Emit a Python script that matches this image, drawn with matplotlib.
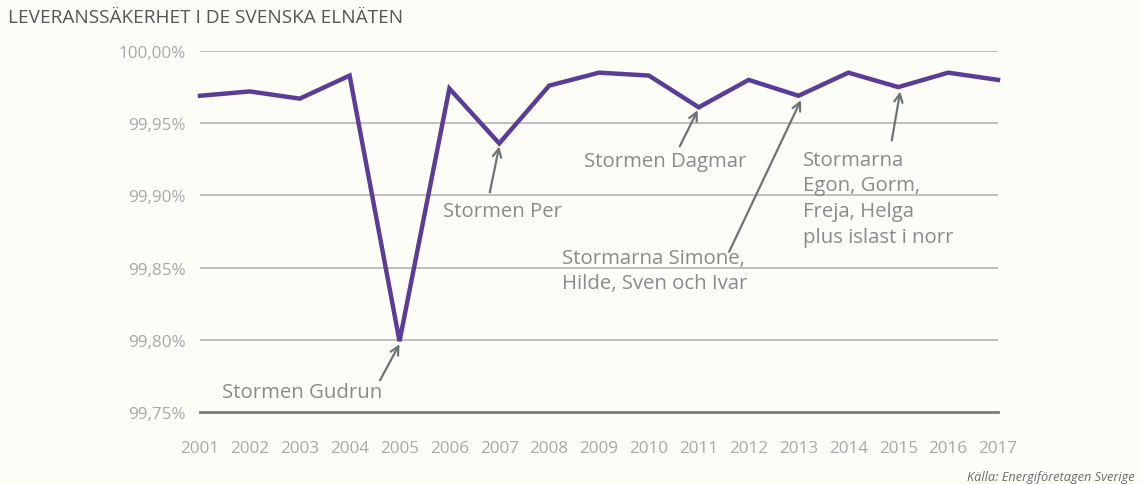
import matplotlib.pyplot as plt
import numpy as np

years = list(range(2001, 2018))
values = [99.969, 99.972, 99.967, 99.983, 99.799, 99.974, 99.936, 99.976,
          99.985, 99.983, 99.961, 99.980, 99.969, 99.985, 99.975, 99.985, 99.980]
yticks = [99.75, 99.80, 99.85, 99.90, 99.95, 100.00]

# annotations: text, text pos, arrow tail, arrow head
notes = [
    ("Stormen Gudrun", (2001.44, 99.764), (2004.61, 99.772), (2005.0, 99.797)),
    ("Stormen Per", (2005.87, 99.889), (2006.81, 99.902), (2007.0, 99.934)),
    ("Stormen Dagmar", (2008.70, 99.924), (2010.62, 99.934), (2010.98, 99.959)),
    ("Stormarna Simone,\nHilde, Sven och Ivar", (2008.26, 99.848), (2011.61, 99.861), (2013.05, 99.966)),
    ("Stormarna\nEgon, Gorm,\nFreja, Helga\nplus islast i norr", (2013.09, 99.898), (2014.87, 99.938), (2015.04, 99.972)),
]

plt.rcParams['font.family'] = ['Open Sans', 'DejaVu Sans']
bg = '#fdfdf8'
fig = plt.figure(figsize=(11.42, 4.85), dpi=100, facecolor=bg)
ax = fig.add_axes([200/1142, 1-413/485, 798/1142, (413-52)/485], facecolor=bg)

for t in yticks:
    if t == 99.75:
        ax.axhline(t, color='#7a7a7e', lw=2.0, zorder=1, clip_on=False)
    else:
        ax.axhline(t, color='#b4b4b8', lw=1.2, zorder=1)

ax.plot(years, values, color='#5b3d99', lw=3.2, zorder=3, clip_on=False,
        solid_joinstyle='miter')

for txt, tpos, tail, head in notes:
    ax.annotate('', xy=head, xytext=tail,
                arrowprops=dict(arrowstyle='->,head_length=0.6,head_width=0.3',
                                color='#6e7474', lw=1.6, shrinkA=0, shrinkB=0),
                zorder=4)
    ax.text(tpos[0], tpos[1], txt, fontsize=14.7, color='#8a8a8e',
            ha='left', va='center', linespacing=1.38, zorder=5)

ax.set_xlim(2001, 2017)
ax.set_ylim(99.75, 100.0)
ax.set_yticks(yticks)
ax.set_yticklabels([('%.2f' % t).replace('.', ',') + '%' for t in yticks])
ax.set_xticks(years)
ax.set_xticklabels([str(y) for y in years])
ax.tick_params(length=0, labelsize=12.3, colors='#a8a8ac', pad=10)
ax.tick_params(axis='x', pad=20)
for s in ax.spines.values():
    s.set_visible(False)

fig.text(8/1142, 1-18/485, 'LEVERANSSÄKERHET I DE SVENSKA ELNÄTEN', fontsize=13.7,
         color='#555558', ha='left', va='center')
fig.text(1135/1142, 1-478/485, 'Källa: Energiföretagen Sverige', fontsize=9.2,
         color='#6a6a6e', style='italic', ha='right', va='center')

fig.savefig('out.png', dpi=100, facecolor=bg)
